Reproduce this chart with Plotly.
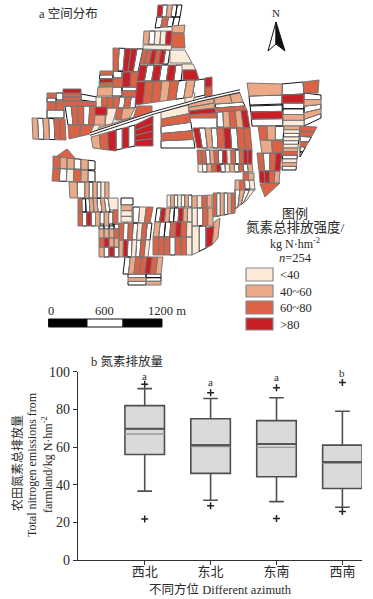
import plotly.graph_objects as go

# ---------- Chart b data ----------
azimuth = ["西北", "东北", "东南", "西南"]
q1 = [56, 46, 44.2, 38]
median = [69.7, 61, 61.6, 52]
q3 = [82, 75, 74, 61]
whisker_low = [36.6, 31.7, 31, 28]
whisker_high = [91, 85.8, 86.2, 79]
means = [66.9, 60.3, 59.8, 51.4]
outlier_high = [93.3, 88.8, 91.5, 94.3]
outlier_low = [21.8, 28.8, 22.1, 25.8]
sig_letters = ["a", "a", "a", "b"]
sig_y = [97.8, 94.5, 97, 99.5]

# ---------- Map data: blocks of parcels ----------
# corners TL, TR, BR, BL, split direction, class of each parcel
# W no data, L <40, M 40~60, O 60~80, R >80
map_blocks = [
    ((158,5),(182,5),(180,17),(157,17),"v","RWMWW"),
    ((157,17),(180,17),(178,26),(155,28),"v","WOWW"),
    ((144,31),(172,31),(171,45),(143,44),"v","MWLLR"),
    ((172,26),(185,25),(184,33),(172,33),"v","M"),
    ((172,33),(184,33),(185,48),(172,48),"v","O"),
    ((143,45),(172,45),(171,50),(143,49),"v","L"),
    ((113,48),(143,49),(138,72),(113,71),"v","OWRRW"),
    ((143,50),(170,50),(168,64),(140,64),"v","OORORW"),
    ((170,50),(185,50),(192,63),(170,63),"v","L"),
    ((182,64),(193,64),(196,70),(182,70),"v","L"),
    ((183,70),(196,70),(199,80),(183,80),"v","R"),
    ((140,65),(183,65),(181,81),(137,81),"v","RWRWRW"),
    ((100,71),(113,71),(113,86),(99,87),"h","OWRO"),
    ((98,87),(113,87),(112,96),(97,96),"v","M"),
    ((113,71),(122,71),(122,78),(113,78),"v","W"),
    ((113,78),(123,78),(123,87),(112,87),"v","O"),
    ((123,72),(131,72),(130,87),(122,87),"v","R"),
    ((131,72),(140,72),(138,87),(130,87),"v","O"),
    ((112,87),(122,87),(122,96),(112,96),"v","W"),
    ((122,87),(137,87),(136,91),(122,91),"v","W"),
    ((122,91),(137,91),(136,97),(122,97),"v","O"),
    ((137,82),(195,80),(192,97),(135,105),"v","ROOMOWM"),
    ((185,93),(195,93),(193,103),(185,105),"v","L"),
    ((195,80),(205,79),(205,95),(192,98),"v","W"),
    ((205,78),(212,77),(212,96),(205,97),"h","RO"),
    ((32,118),(65,119),(66,140),(33,139),"v","MWMWOO"),
    ((47,93),(56,93),(56,98),(47,98),"v","O"),
    ((47,98),(56,98),(56,102),(47,102),"v","W"),
    ((56,93),(63,93),(63,100),(56,100),"v","W"),
    ((47,102),(56,102),(56,110),(47,110),"v","O"),
    ((56,101),(64,101),(64,110),(56,110),"v","O"),
    ((47,110),(64,110),(64,118),(47,118),"v","W"),
    ((63,89),(81,89),(81,101),(63,101),"h","ROO"),
    ((81,94),(97,97),(96,102),(81,100),"v","W"),
    ((64,101),(96,102),(96,106),(65,106),"v","O"),
    ((65,106),(96,106),(94,125),(68,125),"v","WOOWO"),
    ((68,125),(94,125),(90,134),(69,139),"v","OO"),
    ((87,126),(100,124),(98,130),(90,133),"v","L"),
    ((96,97),(137,97),(135,108),(96,108),"v","LOOOWOW"),
    ((95,107),(107,107),(107,115),(95,115),"v","R"),
    ((94,115),(105,115),(105,125),(93,125),"v","M"),
    ((107,108),(117,108),(112,125),(105,125),"v","L"),
    ((117,108),(123,108),(121,120),(115,120),"v","O"),
    ((123,108),(135,108),(130,118),(120,120),"v","M"),
    ((137,106),(152,106),(152,112),(133,119),"v","O"),
    ((100,127),(152,112),(152,113),(100,130),"v","M"),
    ((91,137),(116,130),(116,151),(93,148),"v","MOR"),
    ((116,130),(135,125),(135,146),(116,150),"v","WRW"),
    ((135,125),(153,116),(153,146),(135,146),"h","RRRR"),
    ((161,112),(188,105),(195,148),(161,148),"h","LOWOW"),
    ((188,104),(213,98),(217,118),(190,118),"h","MMRO"),
    ((214,97),(230,95),(232,103),(215,104),"v","M"),
    ((230,95),(240,93),(243,102),(232,103),"v","M"),
    ((215,104),(243,102),(247,110),(217,112),"h","WO"),
    ((217,112),(247,110),(250,128),(217,127),"v","WMOMR"),
    ((193,128),(217,128),(218,148),(197,148),"v","RWMW"),
    ((217,128),(250,128),(252,150),(218,148),"v","ORWOO"),
    # right block
    ((247,83),(282,84),(282,95),(249,96),"v","M"),
    ((282,84),(303,82),(304,94),(282,95),"v","W"),
    ((303,82),(319,80),(318,93),(304,93),"v","O"),
    ((249,96),(282,95),(282,105),(250,106),"v","W"),
    ((282,95),(304,94),(304,103),(282,103),"v","R"),
    ((304,93),(321,95),(321,118),(304,126),"h","WMWMW"),
    ((250,105),(282,104),(283,126),(252,126),"h","WRW"),
    ((283,103),(304,103),(304,126),(283,126),"h","WWML"),
    ((258,126),(284,126),(283,140),(260,140),"v","OMW"),
    ((260,140),(283,141),(283,153),(262,153),"v","MO"),
    ((284,126),(300,126),(296,170),(282,170),"h","MLWLWLMOWLMW"),
    ((300,126),(317,127),(300,157),(300,157),"h","OOWOWW"),
    ((257,153),(282,153),(280,171),(259,171),"v","OWOR"),
    ((259,171),(280,171),(279,183),(260,183),"v","RROM"),
    ((260,184),(280,183),(265,197),(265,197),"v","O"),
    # centre grid
    ((197,150),(252,150),(252,164),(198,164),"v","OOWMOWRLOWORR"),
    ((198,164),(252,164),(253,172),(198,172),"v","LWMORWLMWOWM"),
    ((243,173),(254,173),(254,180),(243,180),"v","OM"),
    ((235,180),(254,180),(255,190),(235,190),"v","MOWL"),
    # lower belt
    ((167,195),(192,195),(192,207),(167,207),"v","LMWLWMW"),
    ((192,196),(212,195),(212,207),(192,208),"v","MLOM"),
    ((213,193),(235,193),(235,213),(213,217),"v","OWMWMO"),
    ((235,189),(255,189),(247,200),(235,209),"v","WMWL"),
    ((157,208),(192,208),(192,222),(155,222),"v","WRMWWRML"),
    ((155,222),(192,222),(192,237),(153,237),"v","MWWOROL"),
    ((153,237),(192,237),(192,255),(153,255),"v","OOOWOOL"),
    ((192,208),(213,208),(213,226),(192,226),"v","LWOM"),
    ((192,226),(206,226),(206,248),(192,255),"v","LW"),
    ((206,228),(214,226),(212,245),(206,248),"v","R"),
    ((214,222),(220,218),(218,238),(212,245),"v","M"),
    # left lobe
    ((57,156),(67,149),(76,159),(67,158),"v","O"),
    ((53,156),(95,161),(95,170),(53,168),"v","OMMWMW"),
    ((53,168),(95,171),(95,182),(52,181),"v","OWLOMW"),
    ((69,182),(85,182),(85,198),(70,198),"v","MW"),
    ((85,182),(109,182),(109,198),(85,198),"v","MWMWLM"),
    ((78,199),(108,198),(110,212),(78,212),"v","OWWMMWMW"),
    ((108,198),(118,198),(118,210),(110,210),"v","L"),
    ((78,212),(113,212),(113,226),(78,226),"v","OWRWMWMW"),
    ((113,210),(118,210),(118,223),(113,223),"v","O"),
    ((121,198),(133,198),(133,205),(121,205),"v","W"),
    ((121,205),(132,205),(132,222),(121,222),"h","MLL"),
    ((133,207),(153,207),(150,223),(133,223),"v","WLO"),
    ((99,224),(119,224),(119,229),(99,229),"v","WWWW"),
    ((99,229),(119,229),(119,238),(99,238),"v","MMMO"),
    ((99,238),(119,238),(119,247),(99,247),"v","ORMM"),
    ((99,247),(119,247),(119,257),(99,257),"v","MWRW"),
    ((119,223),(152,223),(150,240),(119,240),"v","OWOWLOW"),
    ((119,240),(150,240),(148,257),(119,257),"v","MRWLWOL"),
    ((125,257),(163,257),(161,274),(123,274),"v","WMOOROM"),
    ((128,274),(146,274),(146,285),(128,285),"h","WMW"),
    ((146,274),(161,274),(161,285),(146,285),"h","WWM"),
]
road_line = [(90, 134), (153, 113), (200, 100), (240, 91)]

map_classes = ["W", "L", "M", "O", "R"]
class_fill = {"W": "#ffffff", "L": "#fdebd9", "M": "#eba988", "O": "#dc6245", "R": "#c71f26"}
class_line = {"W": "#111111", "L": "#777777", "M": "#777777", "O": "#777777", "R": "#777777"}
legend_labels = ["<40", "40~60", "60~80", ">80"]
legend_classes = ["L", "M", "O", "R"]
legend_rows = [(268, 281), (285, 297), (301, 314), (318, 330)]
scale_segments = [(48.5, 87, "#000000"), (87, 123, "#ffffff"), (123, 162, "#000000")]
scale_labels = [(51, "0"), (104, "600"), (167, "1200 m")]

SERIF = "Liberation Serif, Noto Sans CJK SC, serif"
TXT = "#2a2a2a"
W, H = 373, 599


def lerp(a, b, t):
    return (a[0] + (b[0] - a[0]) * t, a[1] + (b[1] - a[1]) * t)


def split_block(block):
    tl, tr, br, bl, direction, classes = block
    n = len(classes)
    out = []
    for i, c in enumerate(classes):
        t0, t1 = i / n, (i + 1) / n
        if direction == "v":
            poly = [lerp(tl, tr, t0), lerp(tl, tr, t1), lerp(bl, br, t1), lerp(bl, br, t0)]
        else:
            poly = [lerp(tl, bl, t0), lerp(tr, br, t0), lerp(tr, br, t1), lerp(tl, bl, t1)]
        out.append((c, poly))
    return out


fig = go.Figure()

polys = {c: ([], []) for c in map_classes}
for b in map_blocks:
    for c, poly in split_block(b):
        for x, y in poly + [poly[0]]:
            polys[c][0].append(x)
            polys[c][1].append(y)
        polys[c][0].append(None)
        polys[c][1].append(None)
for c in map_classes:
    fig.add_trace(go.Scatter(x=polys[c][0], y=polys[c][1], mode="lines", fill="toself",
                             fillcolor=class_fill[c], line=dict(color=class_line[c], width=1),
                             xaxis="x2", yaxis="y2", showlegend=False, hoverinfo="skip"))

# road
for off, col, wd in [(0, "#ffffff", 3), (-1.3, "#111111", 0.9), (1.3, "#111111", 0.9)]:
    fig.add_trace(go.Scatter(x=[p[0] for p in road_line], y=[p[1] + off for p in road_line],
                             mode="lines", line=dict(color=col, width=wd),
                             xaxis="x2", yaxis="y2", showlegend=False, hoverinfo="skip"))

# north arrow
fig.add_trace(go.Scatter(x=[276, 268, 276, 276], y=[22, 51, 44, 22], mode="lines", fill="toself",
                         fillcolor="#ffffff", line=dict(color="#111111", width=1),
                         xaxis="x2", yaxis="y2", showlegend=False, hoverinfo="skip"))
fig.add_trace(go.Scatter(x=[276, 285, 276, 276], y=[22, 51, 44, 22], mode="lines", fill="toself",
                         fillcolor="#111111", line=dict(color="#111111", width=1),
                         xaxis="x2", yaxis="y2", showlegend=False, hoverinfo="skip"))

# scale bar
for x0, x1, col in scale_segments:
    fig.add_trace(go.Scatter(x=[x0, x1, x1, x0, x0], y=[319, 319, 327, 327, 319], mode="lines",
                             fill="toself", fillcolor=col, line=dict(color="#111111", width=1),
                             xaxis="x2", yaxis="y2", showlegend=False, hoverinfo="skip"))

# legend swatches
for c, (y0, y1) in zip(legend_classes, legend_rows):
    fig.add_trace(go.Scatter(x=[246, 273, 273, 246, 246], y=[y0, y0, y1, y1, y0], mode="lines",
                             fill="toself", fillcolor=class_fill[c], line=dict(color="#888888", width=1.2),
                             xaxis="x2", yaxis="y2", showlegend=False, hoverinfo="skip"))

# box plot
xs = list(range(len(azimuth)))
fig.add_trace(go.Box(x=xs, q1=q1, median=median, q3=q3, lowerfence=whisker_low, upperfence=whisker_high,
                     width=0.6, whiskerwidth=0.37, fillcolor="#d9dadc",
                     line=dict(color="#4f4f4f", width=1.6), boxpoints=False,
                     showlegend=False, hoverinfo="skip"))
for i, m in zip(xs, means):
    fig.add_trace(go.Scatter(x=[i - 0.3, i + 0.3], y=[m, m], mode="lines",
                             line=dict(color="#9a9a9a", width=1.4), showlegend=False, hoverinfo="skip"))
for i, m in zip(xs, median):
    fig.add_trace(go.Scatter(x=[i - 0.3, i + 0.3], y=[m, m], mode="lines",
                             line=dict(color="#555555", width=2), showlegend=False, hoverinfo="skip"))
fig.add_trace(go.Scatter(x=xs + xs, y=outlier_high + outlier_low, mode="markers",
                         marker=dict(symbol="cross-thin", size=5, line=dict(color="#222222", width=1.5)),
                         showlegend=False, hoverinfo="skip"))

ann = []


def text(x, y, s, size=12, anchor="center", angle=0):
    ann.append(dict(x=x, y=y, xref="x2", yref="y2", text=s, showarrow=False, xanchor=anchor, yanchor="middle",
                    textangle=angle, font=dict(family=SERIF, size=size, color=TXT)))


text(37, 14, "a 空间分布", 12.5, "left")
text(276, 13, "N", 11)
text(295, 213, "图例", 13)
text(295, 227.5, "氮素总排放强度/", 13.5)
text(295, 243, "kg N·hm<sup>-2</sup>", 12)
text(295, 257.5, "<i>n</i>=254", 12.5)
for lab, (y0, y1) in zip(legend_labels, legend_rows):
    text(278, (y0 + y1) / 2 + 0.5, lab, 12.5, "left")
for x, s in scale_labels:
    text(x, 311, s, 12.5)
text(89, 361, "b 氮素排放量", 12.5, "left")
text(17, 463, "农田氮素总排放量", 12, angle=-90)
text(32, 465, "Total nitrogen emissions from", 12, angle=-90)
text(47, 465, "farmland/kg N·hm<sup>-2</sup>", 12, angle=-90)
text(220, 589, "不同方位 Different azimuth", 12.5)
for i, s, y in zip(xs, sig_letters, sig_y):
    ann.append(dict(x=i, y=y, xref="x", yref="y", text=s, showarrow=False, yanchor="middle",
                    font=dict(family=SERIF, size=11, color=TXT)))

px_per_cat = 65.9
fig.update_layout(
    width=W, height=H, margin=dict(l=0, r=0, t=0, b=0, autoexpand=False),
    paper_bgcolor="#ffffff", plot_bgcolor="rgba(0,0,0,0)",
    annotations=ann,
    xaxis=dict(domain=[78 / W, 362 / W], range=[(78 - 144.7) / px_per_cat, (362 - 144.7) / px_per_cat],
               tickmode="array", tickvals=xs, ticktext=azimuth, ticks="outside", ticklen=4, tickwidth=1,
               tickcolor="#333333", showline=True, linecolor="#333333", linewidth=1.2, showgrid=False, zeroline=False,
               ticklabelstandoff=-5, tickfont=dict(family=SERIF, size=13, color=TXT)),
    yaxis=dict(domain=[(H - 560) / H, (H - 371.7) / H], range=[0, 100], tickvals=[0, 20, 40, 60, 80, 100],
               ticks="outside", ticklen=4, tickwidth=1, tickcolor="#333333", showline=True, linecolor="#333333",
               linewidth=1.2, showgrid=False, zeroline=False, tickfont=dict(family=SERIF, size=14, color=TXT)),
    xaxis2=dict(domain=[0, 1], range=[0, W], visible=False, fixedrange=True, anchor="y2"),
    yaxis2=dict(domain=[0, 1], range=[H, 0], visible=False, fixedrange=True, anchor="x2"),
)
fig.write_html("out.html", config={"displayModeBar": False}, post_script="document.body.style.margin='0';")
